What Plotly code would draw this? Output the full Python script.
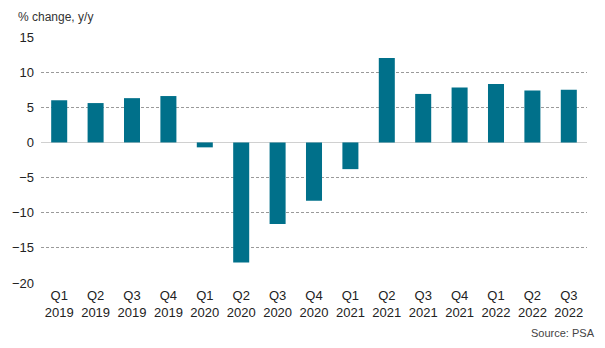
import plotly.graph_objects as go

quarters = ["Q1", "Q2", "Q3", "Q4", "Q1", "Q2", "Q3", "Q4", "Q1", "Q2", "Q3", "Q4", "Q1", "Q2", "Q3"]
years = ["2019", "2019", "2019", "2019", "2020", "2020", "2020", "2020", "2021", "2021", "2021", "2021", "2022", "2022", "2022"]
values = [6.0, 5.6, 6.3, 6.6, -0.7, -17.1, -11.6, -8.3, -3.8, 12.0, 6.9, 7.8, 8.3, 7.4, 7.5]
y_ticks = [-20, -15, -10, -5, 0, 5, 10, 15]

labels = [f"{q}<br>{y}" for q, y in zip(quarters, years)]

fig = go.Figure(go.Bar(x=labels, y=values, marker=dict(color="#00708A", line=dict(width=0))))

font = "Liberation Sans, Arial, sans-serif"
fig.update_layout(
    width=605, height=348,
    margin=dict(l=37, r=18, t=37, b=65),
    plot_bgcolor="white", paper_bgcolor="white",
    bargap=0.56,
    showlegend=False,
    font=dict(family=font, color="#222222"),
    xaxis=dict(showgrid=False, showline=False, ticks="", tickfont=dict(size=13, color="#222222"),
               ticklabelstandoff=3),
    yaxis=dict(range=[-20, 15], tickvals=y_ticks, showgrid=True, gridcolor="#9a9a9a", griddash="3px,2px",
               gridwidth=1, zeroline=True, zerolinecolor="#d0d0d0", zerolinewidth=1,
               tickfont=dict(size=13, color="#222222"), ticklabelstandoff=6),
    annotations=[
        dict(text="% change, y/y", xref="paper", yref="paper", x=-25/550, y=1 + 20/246,
             xanchor="left", yanchor="middle", showarrow=False, font=dict(size=12, color="#333333")),
        dict(text="Source: PSA", xref="paper", yref="paper", x=(597 - 37)/550, y=-(333 - 283)/246,
             xanchor="right", yanchor="middle", showarrow=False, font=dict(size=11, color="#444444")),
    ],
)

fig.write_html("out.html")
